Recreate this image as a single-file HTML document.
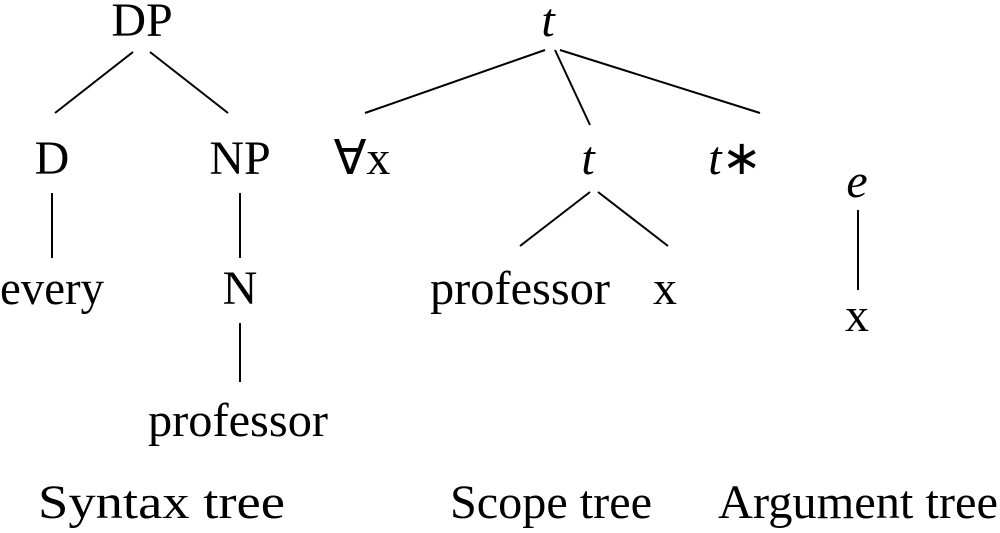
<!DOCTYPE html>
<html><head><style>
html,body{margin:0;padding:0;background:#fff;}
svg text{font-family:"Liberation Serif",serif;font-size:48px;fill:#000;}
</style></head><body>
<svg width="1000" height="528" viewBox="0 0 1000 528" xmlns="http://www.w3.org/2000/svg">
<g stroke="#000" stroke-width="2" fill="none">
<line x1="133" y1="52" x2="55" y2="113"/>
<line x1="150" y1="52" x2="228" y2="113"/>
<line x1="52" y1="193" x2="52" y2="258"/>
<line x1="240" y1="193" x2="240" y2="258"/>
<line x1="240" y1="323" x2="240" y2="382"/>
<line x1="545" y1="50" x2="365" y2="113"/>
<line x1="555" y1="50" x2="590" y2="125"/>
<line x1="560" y1="50" x2="760" y2="113"/>
<line x1="590" y1="192" x2="520" y2="246"/>
<line x1="598" y1="192" x2="668" y2="246"/>
<line x1="858" y1="210" x2="858" y2="290"/>
</g>
<text x="142" y="36" text-anchor="middle">DP</text>
<text x="52" y="174" text-anchor="middle">D</text>
<text x="240" y="174" text-anchor="middle">NP</text>
<text x="0" y="304" textLength="104" lengthAdjust="spacingAndGlyphs">every</text>
<text x="240" y="304" text-anchor="middle">N</text>
<text x="148" y="436" textLength="180" lengthAdjust="spacingAndGlyphs">professor</text>
<text x="548" y="36" text-anchor="middle" font-style="italic">t</text>
<text x="362" y="174" text-anchor="middle">∀x</text>
<text x="588" y="174" text-anchor="middle" font-style="italic">t</text>
<text x="735" y="174" text-anchor="middle"><tspan font-style="italic">t</tspan>∗</text>
<text x="430" y="304" textLength="180" lengthAdjust="spacingAndGlyphs">professor</text>
<text x="665" y="304" text-anchor="middle">x</text>
<text x="857" y="197" text-anchor="middle" font-style="italic">e</text>
<text x="857" y="331" text-anchor="middle">x</text>
<text x="38" y="518" textLength="247" lengthAdjust="spacingAndGlyphs">Syntax tree</text>
<text x="450" y="518" textLength="202" lengthAdjust="spacingAndGlyphs">Scope tree</text>
<text x="718" y="518" textLength="280" lengthAdjust="spacingAndGlyphs">Argument tree</text>
</svg>
</body></html>
